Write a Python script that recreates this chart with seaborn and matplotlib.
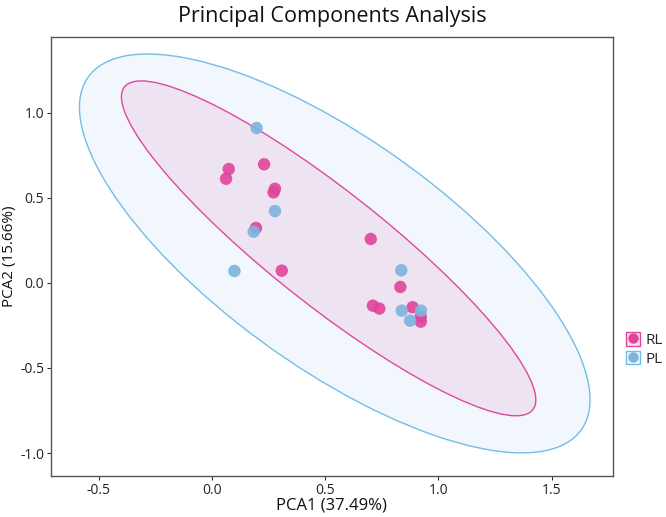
import numpy as np
import pandas as pd
import matplotlib.pyplot as plt
import seaborn as sns
from matplotlib.patches import Ellipse, Patch
from matplotlib.lines import Line2D
from matplotlib.legend_handler import HandlerTuple

# === DATA ===
rl_pca1 = [0.074, 0.062, 0.230, 0.278, 0.272, 0.194, 0.308,
           0.701, 0.832, 0.711, 0.739, 0.886, 0.922, 0.922]
rl_pca2 = [0.669, 0.612, 0.697, 0.553, 0.532, 0.323, 0.072,
           0.258, -0.024, -0.134, -0.151, -0.143, -0.228, -0.200]
pl_pca1 = [0.197, 0.278, 0.184, 0.099, 0.836, 0.838, 0.923, 0.875]
pl_pca2 = [0.910, 0.422, 0.301, 0.070, 0.074, -0.163, -0.163, -0.222]

groups = ["RL", "PL"]
# confidence ellipses: centre and shape matrix [[sxx, sxy], [sxy, syy]]
ellipse_center = {"RL": [0.515, 0.203], "PL": [0.542, 0.173]}
ellipse_shape = {"RL": [[0.8376, -0.8145], [-0.8145, 0.9685]],
                 "PL": [[1.2716, -0.9690], [-0.9690, 1.3739]]}

x_ticks = [-0.5, 0.0, 0.5, 1.0, 1.5]
y_ticks = [-1.0, -0.5, 0.0, 0.5, 1.0]

df = pd.concat([
    pd.DataFrame({"PCA1": rl_pca1, "PCA2": rl_pca2, "group": "RL"}),
    pd.DataFrame({"PCA1": pl_pca1, "PCA2": pl_pca2, "group": "PL"}),
], ignore_index=True)

# === COLORS ===
point_colors = {"RL": "#E0449B", "PL": "#7DB3DF"}
edge_colors = {"RL": "#E0489F", "PL": "#74BDE6"}
fill_colors = {"RL": "#EEE3F1", "PL": "#F1F7FC"}

# === VISUALIZATION ===
sns.set_theme(style="ticks")
plt.rcParams["font.family"] = ["Open Sans", "DejaVu Sans"]

fig = plt.figure(figsize=(6.66, 5.17), dpi=100)
ax = fig.add_axes([0.077, 0.0793, 0.8427, 0.8491])

# ellipses: PL (outer) first, RL on top
for name in ["PL", "RL"]:
    vals, vecs = np.linalg.eigh(np.array(ellipse_shape[name]))
    angle = np.degrees(np.arctan2(vecs[1, 1], vecs[0, 1]))
    ax.add_patch(Ellipse(ellipse_center[name], 2 * np.sqrt(vals[1]), 2 * np.sqrt(vals[0]),
                         angle=angle, facecolor=fill_colors[name],
                         edgecolor=edge_colors[name], linewidth=1.0, zorder=1))

sns.scatterplot(data=df, x="PCA1", y="PCA2", hue="group", hue_order=groups,
                palette=point_colors, s=80, alpha=0.9, linewidth=0,
                legend=False, ax=ax, zorder=3)

ax.set_xlim(-0.71, 1.769)
ax.set_ylim(-1.135, 1.445)
ax.set_xticks(x_ticks)
ax.set_yticks(y_ticks)
ax.set_xticklabels([f"{t:.1f}" for t in x_ticks])
ax.set_yticklabels([f"{t:.1f}" for t in y_ticks])
ax.tick_params(labelsize=10, length=3, width=0.8, colors="#333333", labelcolor="#222222", pad=2)
for sp in ax.spines.values():
    sp.set_color("#555555")
    sp.set_linewidth(1.0)

ax.set_xlabel("PCA1 (37.49%)", fontsize=12, color="#111111", labelpad=0)
ax.set_ylabel("PCA2 (15.66%)", fontsize=11, color="#111111")
ax.yaxis.set_label_coords(-0.061, 0.5)
fig.text(0.4985, 0.968, "Principal Components Analysis", ha="center", va="center",
         fontsize=15.5, color="#111111")

# legend with ellipse fill box + point
handles = []
for name in groups:
    box = Patch(facecolor=fill_colors[name], edgecolor=edge_colors[name], linewidth=1.0)
    dot = Line2D([], [], marker="o", linestyle="", markersize=7.5,
                 markerfacecolor=point_colors[name], markeredgewidth=0)
    handles.append((box, dot))
fig.legend(handles, groups, handler_map={tuple: HandlerTuple(ndivide=1, pad=0)},
           loc="center left", bbox_to_anchor=(0.929, 0.324), frameon=False,
           fontsize=11, handlelength=0.9, handleheight=1.0, handletextpad=0.35,
           labelspacing=0.15, borderpad=0)

plt.savefig("out.png", dpi=100)
